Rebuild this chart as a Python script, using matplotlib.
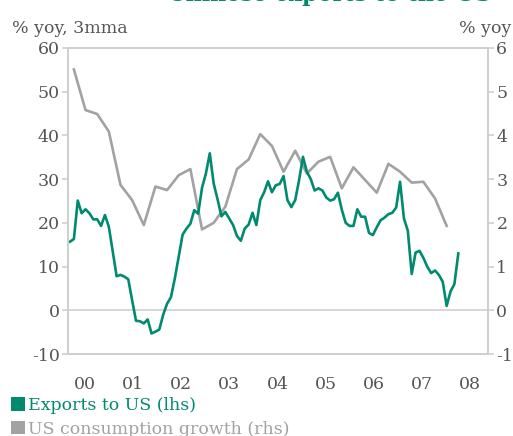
import matplotlib
matplotlib.use("Agg")
import matplotlib.pyplot as plt
from matplotlib.patches import Patch
import numpy as np

# ---- data ----
# Exports to US (lhs), % yoy 3mma, monthly from Jan 2000 (101 months)
exports_us = [15.7, 16.3, 25.1, 22.2, 23.1, 22.2, 20.8, 20.8, 19.3, 21.8,
              19.1, 13.5, 7.8, 8.1, 7.7, 7.1, 2.3, -2.4, -2.5, -3.0,
              -2.1, -5.3, -4.9, -4.4, -1.0, 1.5, 3.0, 7.3, 12.3, 17.3,
              18.7, 19.8, 22.9, 22.1, 28.0, 31.3, 35.9, 29.0, 25.4, 21.5,
              22.5, 21.0, 19.5, 17.0, 15.9, 18.7, 19.6, 22.3, 19.5, 25.2,
              27.0, 29.5, 27.0, 28.6, 28.9, 30.7, 25.2, 23.6, 25.2, 29.8,
              35.1, 31.7, 30.0, 27.4, 27.9, 27.4, 25.8, 25.1, 25.4, 26.9,
              23.0, 20.0, 19.3, 19.3, 23.1, 21.4, 21.4, 17.7, 17.2, 19.0,
              20.6, 21.2, 22.0, 22.3, 23.5, 29.4, 21.0, 18.2, 8.3, 13.2,
              13.6, 12.0, 10.0, 8.5, 9.1, 8.1, 6.5, 1.0, 4.3, 6.0, 13.0]
export_months = list(range(len(exports_us)))

# US consumption growth (rhs), % yoy, quarterly Q1 2000 - Q1 2008 (mid-quarter month index)
us_consumption = [5.51, 4.58, 4.49, 4.09, 2.87, 2.52, 1.95, 2.83, 2.75, 3.09,
                  3.23, 1.85, 2.00, 2.37, 3.23, 3.45, 4.03, 3.76, 3.17, 3.65,
                  3.13, 3.40, 3.51, 2.79, 3.27, 2.98, 2.69, 3.35, 3.17, 2.92,
                  2.94, 2.56, 1.93]
consumption_months = [1 + 3 * i for i in range(len(us_consumption))]

year_labels = ["00", "01", "02", "03", "04", "05", "06", "07", "08"]
left_ticks = [-10, 0, 10, 20, 30, 40, 50, 60]
right_ticks = [-1, 0, 1, 2, 3, 4, 5, 6]

# ---- style ----
GREEN = "#008a70"
GREY = "#a2a2a3"
SPINE = "#cfcfcf"
TXT = "#555555"
FONT = "DejaVu Serif"
plt.rcParams["font.family"] = [FONT]

fig = plt.figure(figsize=(5.13, 4.36), dpi=100)
ax = fig.add_axes([68 / 513, 1 - 354 / 436, (488 - 68) / 513, (354 - 48) / 436])
ax2 = ax.twinx()

ax2.plot(consumption_months, us_consumption, color=GREY, lw=1.9, solid_joinstyle="round")
ax.plot(export_months, exports_us, color=GREEN, lw=1.9, solid_joinstyle="round")
ax.axhline(0, color=SPINE, lw=1.2, zorder=0)

ax.set_zorder(ax2.get_zorder() + 1)
ax.patch.set_visible(False)

ax.set_xlim(-0.515, 107.65)
ax.set_ylim(-10, 60)
ax2.set_ylim(-1, 6)

ax.set_yticks(left_ticks)
ax.set_yticklabels([str(v) for v in left_ticks])
ax2.set_yticks(right_ticks)
ax2.set_yticklabels([str(v) for v in right_ticks])
ax.set_xticks(np.linspace(3.86, 103.0, len(year_labels)))
ax.set_xticklabels(year_labels)

for a in (ax, ax2):
    for s in a.spines.values():
        s.set_color(SPINE)
        s.set_linewidth(1.3)
ax.tick_params(axis="y", length=4, width=1.2, color=SPINE, labelsize=12.5,
               labelcolor=TXT, pad=2)
ax2.tick_params(axis="y", length=4, width=1.2, color=SPINE, labelsize=12.5,
                labelcolor=TXT, pad=2)
ax.tick_params(axis="x", length=0, labelsize=12.5, labelcolor=TXT, pad=15.5)

fig.text(12 / 513, 1 - 33 / 436, "% yoy, 3mma", color=TXT, fontsize=12.5,
         ha="left", va="baseline")
fig.text(511 / 513, 1 - 33 / 436, "% yoy", color=TXT, fontsize=12.5,
         ha="right", va="baseline")
# title sits mostly above the image edge, as in the reference
fig.text(330 / 513, 1 - 0.6 / 436, "Chinese exports to the US", color=GREEN,
         fontsize=16, fontweight="bold", ha="center", va="baseline")

handles = [Patch(facecolor=GREEN, edgecolor="none"),
           Patch(facecolor=GREY, edgecolor="none")]
fig.legend(handles, ["Exports to US (lhs)", "US consumption growth (rhs)"],
           loc="upper left", bbox_to_anchor=(11 / 513, 1 - 397 / 436),
           frameon=False, fontsize=12.5, handlelength=0.8, handleheight=0.8,
           handletextpad=0.2, labelspacing=0.38, borderpad=0, borderaxespad=0,
           labelcolor=[GREEN, GREY])

fig.savefig("out.png", dpi=100)
